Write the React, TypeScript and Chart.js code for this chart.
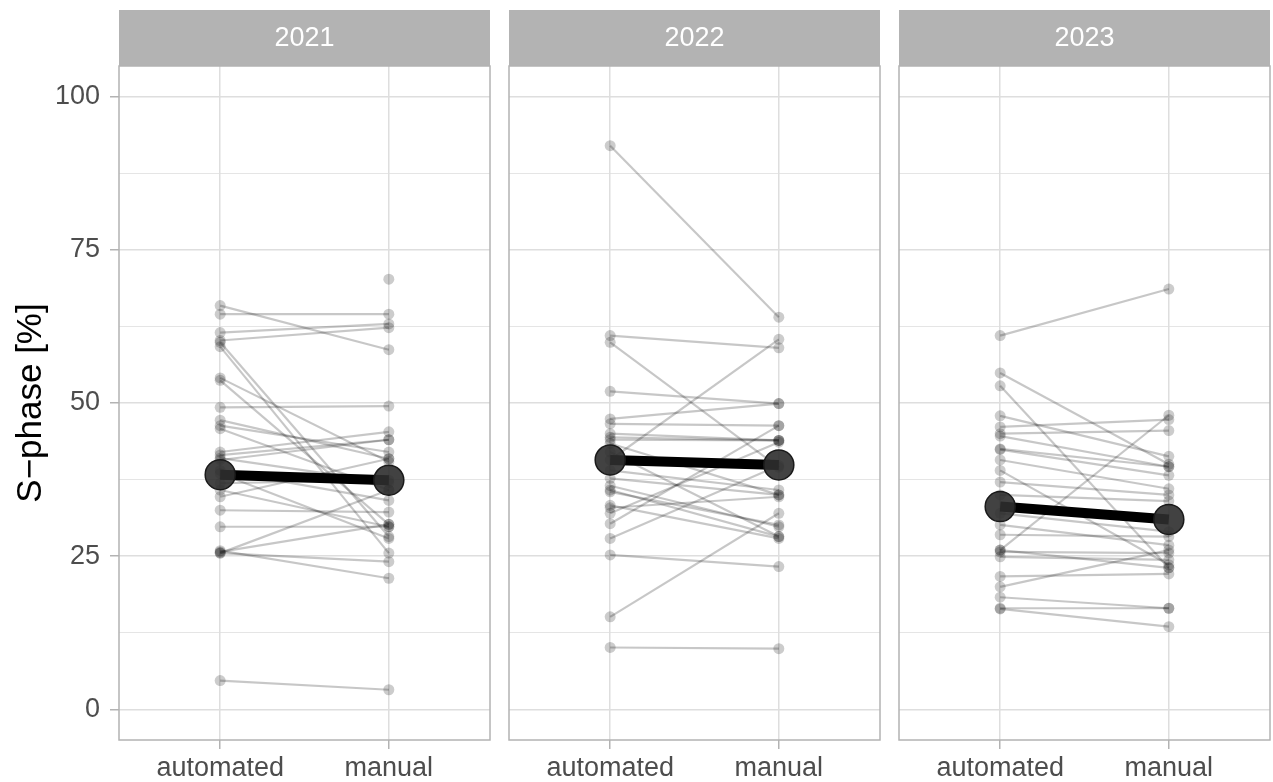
import React, { useEffect, useRef } from "react";
import { Chart, registerables } from "chart.js";
Chart.register(...registerables);

const YEARS = ["2021", "2022", "2023"];
const METHODS = ["automated", "manual"];
const Y_MAJOR = [0, 25, 50, 75, 100];
const Y_MINOR = [12.5, 37.5, 62.5, 87.5];
const Y_TITLE = "S\u2212phase [%]";

const AUTO_2021 = [65.9, 64.5, 61.5, 60.2, 59.9, 59.2, 54.1, 53.7, 49.3, 47.2, 46.3, 45.8, 42.0, 41.5, 40.7, 39.0, 36.9, 35.8, 34.7, 32.5, 29.8, 25.7, 25.5, 25.5, 25.9, 4.7, 38.5, 41.0, null];
const MANUAL_2021 = [58.7, 64.5, 62.9, 62.3, 28.2, 25.5, 40.4, 30.2, 49.5, 40.9, 42.0, 35.8, 45.3, 44.0, 44.0, 34.1, 37.4, 29.8, 40.9, 32.2, 29.8, 30.2, 35.8, 24.1, 21.4, 3.2, 27.9, 37.0, 70.2];

const AUTO_2022 = [92.0, 61.0, 59.9, 51.9, 47.4, 46.6, 45.0, 44.4, 43.4, 42.0, 35.8, 35.5, 33.3, 32.9, 32.0, 40.7, 30.3, 27.9, 25.2, 15.1, 10.1, 39.0, 37.7, 44.0, 36.5];
const MANUAL_2022 = [64.0, 59.0, 39.5, 49.9, 49.9, 46.3, 43.9, 43.9, 35.0, 28.2, 28.2, 30.1, 27.9, 34.7, 43.6, 60.4, 46.3, 39.8, 23.3, 32.0, 9.9, 35.8, 35.0, 43.9, 29.8];

const AUTO_2023 = [61.0, 54.9, 52.8, 47.9, 46.1, 45.0, 44.6, 42.5, 42.4, 40.7, 39.0, 37.1, 35.0, 30.1, 28.5, 26.0, 25.7, 24.9, 21.7, 20.0, 18.3, 16.5, 16.4, 26.0, 32.0];
const MANUAL_2023 = [68.6, 40.0, 23.1, 41.3, 47.3, 45.5, 39.6, 39.6, 38.2, 36.0, 23.6, 35.0, 34.0, 26.8, 28.2, 48.0, 25.5, 24.4, 22.1, 26.0, 16.5, 16.5, 13.5, 23.1, 29.0];

const MEAN_AUTO = [38.3, 40.7, 33.1];
const MEAN_MANUAL = [37.4, 39.9, 31.0];

const AUTOS = [AUTO_2021, AUTO_2022, AUTO_2023];
const MANUALS = [MANUAL_2021, MANUAL_2022, MANUAL_2023];

const FONT = "'Liberation Sans', Arial, Helvetica, sans-serif";
const GRID = "#dedede";
const FRAME = "#b3b3b3";

const stripPlugin = {
  id: "strip",
  beforeDraw(chart: any, _args: any, opts: any) {
    const { ctx, chartArea } = chart;
    ctx.save();
    ctx.fillStyle = FRAME;
    ctx.fillRect(chartArea.left, 10, chartArea.right - chartArea.left, chartArea.top - 10);
    ctx.fillStyle = "#ffffff";
    ctx.font = `27px ${FONT}`;
    ctx.textAlign = "center";
    ctx.textBaseline = "middle";
    ctx.fillText(opts.text, (chartArea.left + chartArea.right) / 2, 39);
    ctx.restore();
  },
  afterDraw(chart: any) {
    const { ctx, chartArea } = chart;
    ctx.save();
    ctx.strokeStyle = FRAME;
    ctx.lineWidth = 1.5;
    ctx.strokeRect(chartArea.left, chartArea.top, chartArea.right - chartArea.left, chartArea.bottom - chartArea.top);
    ctx.restore();
  },
};

function Panel({ idx }: { idx: number }) {
  const ref = useRef<HTMLCanvasElement>(null);
  const first = idx === 0;
  const yw = first ? 119 : 19;
  const plotLeft = 119 + idx * 390;
  const canvasLeft = plotLeft - yw;
  const width = yw + 371 + 2;

  useEffect(() => {
    const auto = AUTOS[idx];
    const man = MANUALS[idx];
    const pairs = auto.map((a, i) => ({
      data: [
        { x: 1, y: a },
        { x: 2, y: man[i] },
      ],
      showLine: true,
      borderColor: "rgba(0,0,0,0.22)",
      borderWidth: 2.2,
      pointRadius: 5.5,
      pointBackgroundColor: "rgba(0,0,0,0.2)",
      pointBorderWidth: 0,
      pointBorderColor: "rgba(0,0,0,0)",
      order: 1,
    }));
    const mean = {
      data: [
        { x: 1, y: MEAN_AUTO[idx] },
        { x: 2, y: MEAN_MANUAL[idx] },
      ],
      showLine: true,
      borderColor: "#000000",
      borderWidth: 10,
      pointRadius: 15,
      pointBackgroundColor: "rgba(45,45,45,0.9)",
      pointBorderColor: "#1a1a1a",
      pointBorderWidth: 1.5,
      order: 0,
    };
    const chart = new Chart(ref.current!, {
      type: "scatter",
      data: { datasets: [mean, ...pairs] as any },
      plugins: [stripPlugin as any],
      options: {
        animation: false,
        responsive: false,
        events: [],
        layout: { autoPadding: false, padding: { top: 66, right: 2, left: 0, bottom: 0 } },
        plugins: {
          legend: { display: false },
          tooltip: { enabled: false },
          strip: { text: YEARS[idx] },
        } as any,
        scales: {
          x: {
            type: "linear",
            min: 0.4,
            max: 2.6,
            afterBuildTicks: (s: any) => {
              s.ticks = [1, 2].map((v) => ({ value: v }));
            },
            afterFit: (s: any) => {
              s.height = 42;
              s.paddingLeft = 0;
              s.paddingRight = 0;
            },
            ticks: {
              callback: (v: any) => METHODS[Number(v) - 1] ?? "",
              color: "#4d4d4d",
              font: { size: 27, family: FONT },
              padding: 3,
              maxRotation: 0,
              autoSkip: false,
            },
            grid: {
              color: GRID,
              lineWidth: 1.5,
              tickLength: 9,
              tickColor: FRAME,
              tickWidth: 1.5,
            },
            border: { display: false },
          },
          y: {
            type: "linear",
            min: -5,
            max: 105,
            afterBuildTicks: (s: any) => {
              s.ticks = [...Y_MAJOR, ...Y_MINOR].sort((a, b) => a - b).map((v) => ({ value: v }));
            },
            afterFit: (s: any) => {
              s.width = yw;
              s.paddingTop = 0;
              s.paddingBottom = 0;
            },
            ticks: {
              display: first,
              callback: (v: any) => (Y_MAJOR.includes(Number(v)) ? String(v) : ""),
              color: "#4d4d4d",
              font: { size: 27, family: FONT },
              padding: 10,
              autoSkip: false,
            },
            grid: {
              color: GRID,
              lineWidth: (c: any) => (Y_MAJOR.includes(c.tick?.value) ? 1.5 : 0.8),
              drawTicks: first,
              tickLength: 9,
              tickColor: (c: any) => (Y_MAJOR.includes(c.tick?.value) ? FRAME : "rgba(0,0,0,0)"),
              tickWidth: 1.5,
            },
            border: { display: false },
            title: {
              display: first,
              text: Y_TITLE,
              color: "#000000",
              font: { size: 35, family: FONT },
              padding: { top: 10, bottom: 0 },
            },
          },
        },
      } as any,
    });
    return () => chart.destroy();
  }, [idx]);

  return (
    <canvas
      ref={ref}
      width={width}
      height={782}
      style={{ position: "absolute", left: canvasLeft, top: 0, width, height: 782 }}
    />
  );
}

export default function App() {
  return (
    <div style={{ position: "absolute", left: 0, top: 0, width: 1273, height: 782, background: "#ffffff", overflow: "hidden" }}>
      {YEARS.map((_, i) => (
        <Panel key={i} idx={i} />
      ))}
    </div>
  );
}
